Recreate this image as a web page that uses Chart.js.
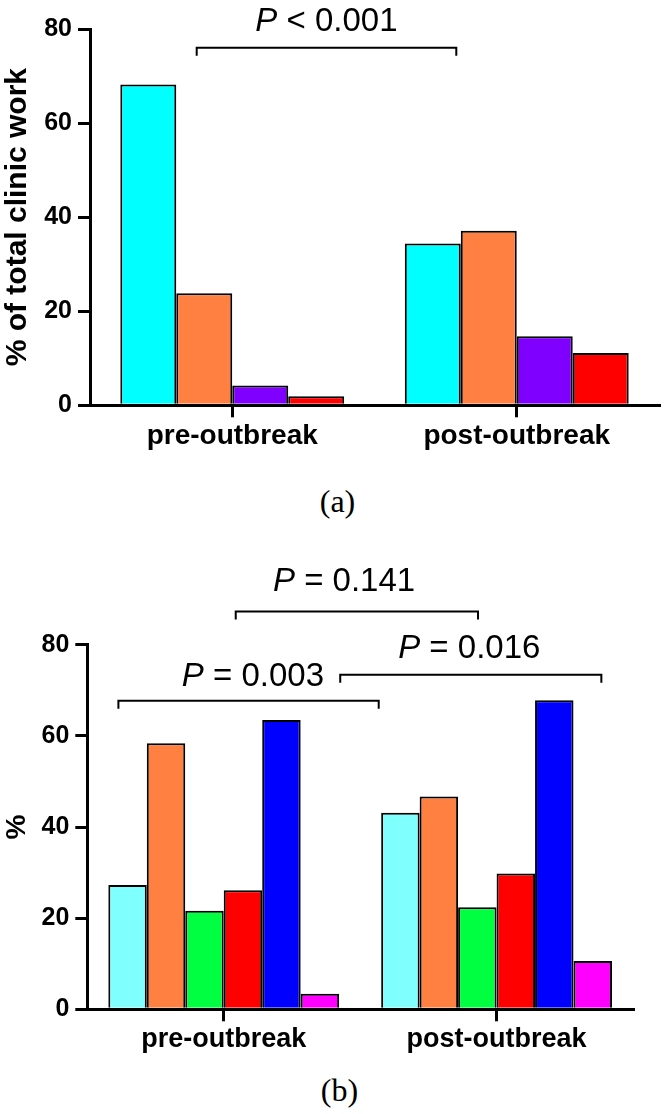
<!DOCTYPE html>
<html>
<head>
<meta charset="utf-8">
<script src="https://cdn.jsdelivr.net/npm/chart.js@4/dist/chart.umd.min.js"></script>
<style>
  body { margin:0; background:#fff; width:665px; height:1114px; position:relative; overflow:hidden; }
  canvas { position:absolute; left:0; }
  #chartA { top:0; }
  #chartB { top:540px; }
  .cap { position:absolute; width:665px; left:0; text-align:center; font-family:"Liberation Serif","Times New Roman",serif; font-size:32px; line-height:32px; color:#000; }
</style>
</head>
<body>
<canvas id="chartA" width="665" height="470"></canvas>
<canvas id="chartB" width="665" height="530"></canvas>
<div class="cap" style="top:485px;padding-left:5px">(a)</div>
<div class="cap" style="top:1074px;padding-left:7px">(b)</div>
<script>

// ---- data ----
const categories = ['pre-outbreak', 'post-outbreak']
const yTicks     = [0, 20, 40, 60, 80]

// (a) % of total clinic work
const a1 = [68.2, 34.4]
const a2 = [23.8, 37.1]
const a3 = [4.2, 14.7]
const a4 = [1.9, 11.1]

// (b) %
const b1 = [27.3, 43.1]
const b2 = [58.4, 46.7]
const b3 = [21.6, 22.4]
const b4 = [26.1, 29.8]
const b5 = [63.5, 67.8]
const b6 = [3.4, 10.6]

const pTextA = ['< 0.001']
const pTextB = ['= 0.141', '= 0.003', '= 0.016']


const FONT = '"Liberation Sans", Arial, Helvetica, sans-serif'

const colorsA = ['#00FFFF', '#FF8040', '#8000FF', '#FF0000']
const colorsB = ['#80FFFF', '#FF8040', '#00FF40', '#FF0000', '#0000FF', '#FF00FF']


//brackets + P values, drawn from the scales
const bracketPlugin = {
      id: 'brackets',
      afterDraw: (chart, args, opts) => {
            const { ctx } = chart
            const x = chart.scales.x, y = chart.scales.y
            ctx.save()
            ctx.strokeStyle = '#000'
            ctx.lineWidth = 2
            ctx.fillStyle = '#000'
            opts.items.forEach(b => {
                  const x1 = x.getPixelForValue(b.from)
                  const x2 = x.getPixelForValue(b.to)
                  const yy = y.getPixelForValue(b.level)
                  ctx.beginPath()
                  ctx.moveTo(x1, yy + 8); ctx.lineTo(x1, yy); ctx.lineTo(x2, yy); ctx.lineTo(x2, yy + 8)
                  ctx.stroke()

                  ctx.textBaseline = 'alphabetic'
                  ctx.textAlign = 'left'
                  ctx.font = 'italic 33px ' + FONT
                  const wP = ctx.measureText('P').width
                  ctx.font = '33px ' + FONT
                  const rest = ' ' + b.text
                  const wR = ctx.measureText(rest).width
                  const cx = x.getPixelForValue(b.textAt)
                  const ty = y.getPixelForValue(b.textLevel)
                  const sx = cx - (wP + wR) / 2
                  ctx.font = 'italic 33px ' + FONT
                  ctx.fillText('P', sx, ty)
                  ctx.font = '33px ' + FONT
                  ctx.fillText(rest, sx + wP, ty)
            })
            ctx.restore()
      }
}


function makeSets(series, colors){
      return series.map((s, i) => ({
            label: 'group ' + (i + 1),
            data: s,
            backgroundColor: colors[i],
            borderColor: '#000',
            borderWidth: 2,
            barPercentage: 1,
      }))
}


function makeChart(id, cfg){

      const setup = {
            type: 'bar',
            data: {
                  labels: categories,
                  datasets: makeSets(cfg.series, cfg.colors)
            },
            options: {
                  responsive: false,
                  animation: false,
                  devicePixelRatio: 1,
                  datasets: { bar: { categoryPercentage: cfg.catPct } },
                  layout: { padding: { left: 0, right: cfg.right, top: cfg.top, bottom: 0 } },
                  plugins: {
                        legend: { display: false },
                        tooltip: { enabled: false },
                        brackets: { items: cfg.brackets },
                  },
                  scales: {
                        x: {
                              z: 1,
                              offset: true,
                              grid: { display: true, drawOnChartArea: false, offset: false, tickLength: 12, lineWidth: 3, color: '#000' },
                              border: { display: true, width: 3, color: '#000' },
                              ticks: { color: '#000', padding: 2, maxRotation: 0, autoSkip: false,
                                       font: { family: FONT, size: cfg.catFont, weight: 'bold' } },
                              afterFit: (s) => { s.height = cfg.xh },
                        },
                        y: {
                              z: 1,
                              min: yTicks[0],
                              max: yTicks[yTicks.length - 1],
                              afterBuildTicks: (s) => { s.ticks = yTicks.map(v => ({ value: v })) },
                              grid: { display: true, drawOnChartArea: false, tickLength: 12, lineWidth: 3, color: '#000' },
                              border: { display: true, width: 3, color: '#000' },
                              ticks: { color: '#000', padding: 6, font: { family: FONT, size: 25, weight: 'bold' } },
                              title: { display: true, text: cfg.yTitle, color: '#000', padding: { top: 0, bottom: 0 },
                                       font: { family: FONT, size: cfg.titleFont, weight: 'bold' } },
                              afterFit: (s) => { s.width = cfg.left },
                        }
                  }
            },
            plugins: [bracketPlugin]
      }

      return new Chart(document.getElementById(id), setup)
}


makeChart('chartA', {
      series: [a1, a2, a3, a4],
      colors: colorsA,
      catPct: 0.787,
      left: 90, right: 6, top: 29, xh: 470 - 405.3,
      catFont: 28, titleFont: 30,
      yTitle: '% of total clinic work',
      brackets: [
            { text: pTextA[0], from: -0.125, to: 0.7875, level: 76.0, textAt: 0.331, textLevel: 79.6 },
      ]
})

makeChart('chartB', {
      series: [b1, b2, b3, b4, b5, b6],
      colors: colorsB,
      catPct: 0.846,
      left: 87.3, right: 32, top: 104.7, xh: 530 - 469.3,
      catFont: 27, titleFont: 28,
      yTitle: '%',
      brackets: [
            { text: pTextB[0], from: 0.044,  to: 0.932, level: 87.3, textAt: 0.441, textLevel: 91.85 },
            { text: pTextB[1], from: -0.386, to: 0.568, level: 67.7, textAt: 0.107, textLevel: 71.0 },
            { text: pTextB[2], from: 0.427,  to: 1.384, level: 73.4, textAt: 0.900, textLevel: 77.1 },
      ]
})

</script>
</body>
</html>
